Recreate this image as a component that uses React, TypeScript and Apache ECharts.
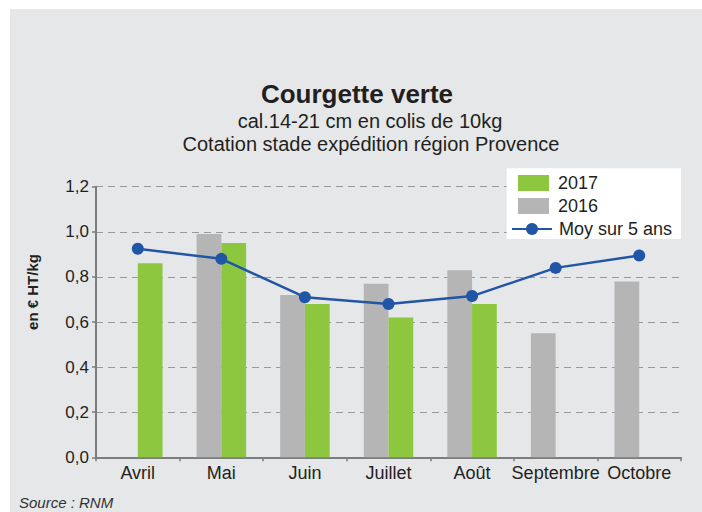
import React, { useEffect, useRef } from "react";
import * as echarts from "echarts";

const categories = ["Avril", "Mai", "Juin", "Juillet", "Août", "Septembre", "Octobre"];
const values2016 = [null, 0.99, 0.72, 0.77, 0.83, 0.55, 0.78];
const values2017 = [0.86, 0.95, 0.68, 0.62, 0.68, null, null];
const moy5ans = [0.925, 0.88, 0.71, 0.68, 0.715, 0.84, 0.895];
const yTicks = { min: 0, max: 1.2, interval: 0.2 };

const FONT = "'Liberation Sans', Arial, Helvetica, sans-serif";
const DARK = "#231f20";

export default function App() {
  const ref = useRef<HTMLDivElement>(null);

  useEffect(() => {
    if (!ref.current) return;
    const chart = echarts.init(ref.current, null, { renderer: "svg" });
    chart.setOption({
      animation: false,
      textStyle: { fontFamily: FONT },
      grid: { left: 96, right: 21, top: 186.7, bottom: 54.7, containLabel: false },
      xAxis: {
        type: "category",
        data: categories,
        boundaryGap: true,
        axisLine: { show: true, lineStyle: { color: "#7d7d7d", width: 2 } },
        axisTick: { show: true, length: 4, lineStyle: { color: "#7d7d7d", width: 1.5 } },
        axisLabel: { color: DARK, fontSize: 18, margin: 7, fontFamily: FONT, interval: 0 },
        splitLine: { show: false },
      },
      yAxis: {
        type: "value",
        min: yTicks.min,
        max: yTicks.max,
        interval: yTicks.interval,
        axisLine: { show: true, lineStyle: { color: "#7d7d7d", width: 2 } },
        axisTick: { show: true, length: 4, lineStyle: { color: "#7d7d7d", width: 1.5 } },
        axisLabel: {
          color: DARK,
          fontSize: 17,
          margin: 7,
          fontFamily: FONT,
          formatter: (v: number) => v.toFixed(1).replace(".", ","),
        },
        splitLine: { show: true, lineStyle: { color: "#9a9a9a", width: 1, type: [7, 5] } },
      },
      legend: [
        {
          data: ["2017", "2016"],
          orient: "vertical",
          left: 518,
          top: 174,
          padding: 0,
          itemWidth: 31,
          itemHeight: 16,
          itemGap: 5,
          icon: "rect",
          selectedMode: false,
          textStyle: { color: DARK, fontSize: 18, fontFamily: FONT, padding: [0, 0, 0, 4] },
          z: 10,
        },
        {
          data: ["Moy sur 5 ans"],
          orient: "vertical",
          left: 511,
          top: 220,
          padding: 0,
          itemWidth: 40,
          itemHeight: 15,
          selectedMode: false,
          textStyle: { color: DARK, fontSize: 18, fontFamily: FONT, padding: [0, 0, 0, 2] },
          z: 10,
        },
      ],
      graphic: [
        {
          type: "rect",
          z: 5,
          shape: { x: 506.7, y: 168.3, width: 174.3, height: 70.7 },
          style: { fill: "#ffffff" },
        },
        {
          type: "text",
          x: 357,
          y: 93.5,
          style: { text: "Courgette verte", font: `bold 26px ${FONT}`, fill: DARK, align: "center", verticalAlign: "middle" },
        },
        {
          type: "text",
          x: 370,
          y: 120.5,
          style: { text: "cal.14-21 cm en colis de 10kg", font: `20px ${FONT}`, fill: DARK, align: "center", verticalAlign: "middle" },
        },
        {
          type: "text",
          x: 371,
          y: 144.2,
          style: { text: "Cotation stade expédition région Provence", font: `20px ${FONT}`, fill: DARK, align: "center", verticalAlign: "middle" },
        },
        {
          type: "text",
          x: 32,
          y: 292,
          rotation: Math.PI / 2,
          style: { text: "en € HT/kg", font: `bold 15px ${FONT}`, fill: DARK, align: "center", verticalAlign: "middle" },
        },
        {
          type: "text",
          x: 19,
          y: 502,
          style: { text: "Source : RNM", font: `italic 15px ${FONT}`, fill: "#333333", align: "left", verticalAlign: "middle" },
        },
      ],
      series: [
        {
          name: "2016",
          type: "bar",
          data: values2016,
          barWidth: "29.6%",
          barGap: "0%",
          itemStyle: { color: "#b5b5b6" },
          z: 2,
        },
        {
          name: "2017",
          type: "bar",
          data: values2017,
          barWidth: "29.6%",
          barGap: "0%",
          itemStyle: { color: "#8dc63f" },
          z: 2,
        },
        {
          name: "Moy sur 5 ans",
          type: "line",
          data: moy5ans,
          symbol: "circle",
          symbolSize: 12,
          lineStyle: { color: "#2156a6", width: 2.5 },
          itemStyle: { color: "#2156a6" },
          z: 3,
        },
      ],
    });
    return () => chart.dispose();
  }, []);

  return (
    <div style={{ position: "absolute", left: 0, top: 0, width: 702, height: 512, background: "#ffffff" }}>
      <div style={{ position: "absolute", left: 10, top: 9, width: 692, height: 503, background: "#e6e7e8" }} />
      <div ref={ref} style={{ position: "absolute", left: 0, top: 0, width: 702, height: 512 }} />
    </div>
  );
}
